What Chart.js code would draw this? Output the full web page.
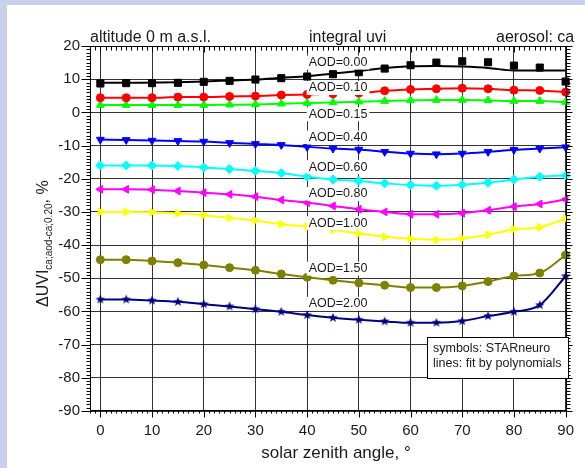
<!DOCTYPE html>
<html>
<head>
<meta charset="utf-8">
<script src="https://cdn.jsdelivr.net/npm/chart.js@4.4.1/dist/chart.umd.min.js"></script>
<style>
html, body { margin: 0; padding: 0; background: #c8d0ec; }
#wrap { width: 585px; height: 468px; }
</style>
</head>
<body>
<div id="wrap"><canvas id="chart" width="585" height="468"></canvas></div>
<script>
// solar zenith angles (x)
const sza = [0, 5, 10, 15, 20, 25, 30, 35, 40, 45, 50, 55, 60, 65, 70, 75, 80, 85, 90];

// STARneuro symbols, one array per AOD
const aod000 = [8.7, 8.8, 8.8, 8.9, 9.2, 9.5, 9.9, 10.3, 10.8, 11.5, 12.1, 13.2, 14.2, 15.0, 15.4, 15.1, 14.1, 13.5, 9.3];
const aod010 = [4.4, 4.4, 4.4, 4.6, 4.6, 4.8, 4.9, 5.2, 5.4, 5.6, 5.8, 6.5, 6.9, 7.1, 7.3, 7.1, 6.7, 6.6, 6.1];
const aod015 = [2.2, 2.2, 2.2, 2.2, 2.2, 2.3, 2.4, 2.6, 2.8, 3.0, 3.2, 3.4, 3.6, 3.7, 3.7, 3.6, 3.4, 3.4, 3.1];
const aod040 = [-8.2, -8.3, -8.5, -8.6, -8.8, -9.2, -9.5, -9.8, -10.4, -10.9, -11.2, -11.9, -12.4, -12.6, -12.4, -11.9, -11.3, -10.9, -10.5];
const aod060 = [-16.0, -16.0, -16.0, -16.2, -16.6, -17.1, -17.6, -18.3, -19.4, -20.2, -20.7, -21.4, -21.9, -22.1, -21.8, -21.2, -20.2, -19.4, -19.0];
const aod080 = [-23.2, -23.2, -23.3, -23.7, -24.2, -24.7, -25.4, -26.4, -27.2, -28.2, -29.2, -30.0, -30.7, -30.7, -30.4, -29.5, -28.4, -27.6, -26.2];
const aod100 = [-30.0, -30.0, -30.1, -30.4, -31.0, -31.8, -32.6, -33.7, -34.4, -35.4, -36.5, -37.5, -38.1, -38.4, -38.0, -36.9, -35.2, -34.6, -32.0];
const aod150 = [-44.4, -44.4, -44.8, -45.3, -46.0, -46.8, -47.6, -48.7, -49.7, -50.6, -51.4, -52.1, -52.8, -52.8, -52.3, -51.0, -49.3, -48.4, -43.0];
const aod200 = [-56.4, -56.4, -56.7, -57.1, -57.8, -58.5, -59.3, -60.1, -61.1, -61.9, -62.5, -63.0, -63.4, -63.4, -62.9, -61.4, -60.1, -58.1, -49.4];

// polynomial fit for AOD=0.00 (the only one visibly off the symbols)
const fit000 = [8.9, 8.9, 9.0, 9.1, 9.3, 9.6, 9.9, 10.4, 10.9, 11.7, 12.5, 13.4, 13.9, 14.0, 13.8, 13.4, 12.6, 12.6, 12.6];

// curve labels and where they sit (data units)
const aodNames = ['AOD=0.00', 'AOD=0.10', 'AOD=0.15', 'AOD=0.40', 'AOD=0.60', 'AOD=0.80', 'AOD=1.00', 'AOD=1.50', 'AOD=2.00'];
const labelY = [15.0, 7.35, -0.57, -7.6, -16.5, -24.6, -33.4, -47.1, -57.7];
const labelX = 40.3;

const xTicks = [0, 10, 20, 30, 40, 50, 60, 70, 80, 90];
const yTicks = [-90, -80, -70, -60, -50, -40, -30, -20, -10, 0, 10, 20];

const FONT = '"Liberation Sans", Arial, Helvetica, sans-serif';

function toPoints(ys) {
  return sza.map((x, i) => ({ x: x, y: ys[i] }));
}

// filled five point star for the AOD=2.00 symbols
function makeStar(color, r) {
  const c = document.createElement('canvas');
  const s = Math.ceil(r * 2) + 2;
  c.width = s; c.height = s;
  const g = c.getContext('2d');
  g.fillStyle = color;
  g.beginPath();
  for (let i = 0; i < 10; i++) {
    const rad = i % 2 === 0 ? r : r * 0.42;
    const a = -Math.PI / 2 + i * Math.PI / 5;
    const px = s / 2 + rad * Math.cos(a);
    const py = s / 2 + rad * Math.sin(a);
    if (i === 0) g.moveTo(px, py); else g.lineTo(px, py);
  }
  g.closePath();
  g.fill();
  return c;
}

function series(values, color, style, rotation, radius, showLine) {
  return {
    data: toPoints(values),
    borderColor: color,
    backgroundColor: color,
    borderWidth: 2,
    showLine: showLine,
    cubicInterpolationMode: 'monotone',
    pointStyle: style,
    rotation: rotation,
    pointRadius: radius,
    pointBorderWidth: 1,
    clip: false
  };
}

const datasets = [
  {
    data: toPoints(fit000),
    borderColor: '#000',
    borderWidth: 2,
    pointRadius: 0,
    cubicInterpolationMode: 'monotone',
    clip: false
  },
  series(aod000, '#000000', 'rect', 0, 5, false),
  series(aod010, '#ff0000', 'circle', 0, 4, true),
  series(aod015, '#00ff00', 'triangle', 0, 4.5, true),
  series(aod040, '#0000ff', 'triangle', 180, 4.5, true),
  series(aod060, '#00ffff', 'rectRot', 0, 4.5, true),
  series(aod080, '#ff00ff', 'triangle', 270, 4.5, true),
  series(aod100, '#ffff00', 'triangle', 90, 4.5, true),
  series(aod150, '#808000', 'circle', 0, 4, true),
  series(aod200, '#000080', makeStar('#000080', 5), 0, 5, true)
];

function seg(ctx, x1, y1, x2, y2) {
  ctx.beginPath();
  ctx.moveTo(x1, y1);
  ctx.lineTo(x2, y2);
  ctx.stroke();
}

const decor = {
  id: 'decor',
  beforeDraw(chart) {
    const ctx = chart.ctx;
    ctx.save();
    ctx.fillStyle = '#c8d0ec';
    ctx.fillRect(0, 0, chart.width, chart.height);
    ctx.fillStyle = '#ffffff';
    ctx.fillRect(7, 5, chart.width - 7, chart.height - 5);
    ctx.restore();
  },
  afterDatasetsDraw(chart) {
    const ctx = chart.ctx;
    const ca = chart.chartArea;
    const xs = chart.scales.x;
    const ys = chart.scales.y;
    ctx.save();

    // curve labels on white boxes
    ctx.font = '12.5px ' + FONT;
    ctx.textBaseline = 'middle';
    aodNames.forEach((t, i) => {
      const px = xs.getPixelForValue(labelX);
      const py = ys.getPixelForValue(labelY[i]);
      const w = ctx.measureText(t).width;
      ctx.fillStyle = '#ffffff';
      ctx.fillRect(px - 2, py - 7, w + 4, 14);
      ctx.fillStyle = '#1a1a1a';
      ctx.fillText(t, px, py);
    });

    // frame and minor ticks
    ctx.strokeStyle = '#000';
    ctx.lineWidth = 1;
    ctx.strokeRect(Math.round(ca.left) + 0.5, Math.round(ca.top) + 0.5,
      Math.round(ca.right - ca.left) - 1, Math.round(ca.bottom - ca.top) - 1);
    const L = Math.round(ca.left) + 0.5, R = Math.round(ca.right) - 0.5;
    const T = Math.round(ca.top) + 0.5, B = Math.round(ca.bottom) - 0.5;
    for (let v = -90; v <= 20; v++) {
      const py = Math.round(ys.getPixelForValue(v)) + 0.5;
      const major = v % 10 === 0;
      seg(ctx, L - (major ? 9 : 4), py, L, py);
      seg(ctx, R, py, R + (major ? 6 : 4), py);
    }
    for (let v = -2; v <= 90; v++) {
      const px = Math.round(xs.getPixelForValue(v)) + 0.5;
      const major = v % 10 === 0;
      seg(ctx, px, B, px, B + (major ? 7 : 3));
      seg(ctx, px, T, px, T + (major ? 6 : 4));
    }

    // info box
    ctx.fillStyle = '#ffffff';
    ctx.fillRect(427, 337, 141, 41);
    ctx.strokeRect(427.5, 337.5, 141, 41);
    ctx.fillStyle = '#1a1a1a';
    ctx.font = '12.5px ' + FONT;
    ctx.textBaseline = 'middle';
    ctx.fillText('symbols: STARneuro', 433, 349);
    ctx.fillText('lines: fit by polynomials', 433, 364);

    // titles above the plot
    ctx.font = '16px ' + FONT;
    ctx.textBaseline = 'alphabetic';
    ctx.fillText('altitude 0 m a.s.l.', 90, 42);
    ctx.fillText('integral uvi', 309, 42);
    ctx.fillText('aerosol: ca', 496, 42);

    // x axis title
    ctx.font = '17px ' + FONT;
    ctx.textAlign = 'center';
    ctx.fillText('solar zenith angle, \u00b0', 336, 458);

    // y axis title with subscript, rotated
    ctx.textAlign = 'left';
    ctx.translate(48, 307);
    ctx.rotate(-Math.PI / 2);
    ctx.font = '16px ' + FONT;
    const main = '\u0394UVI';
    ctx.fillText(main, 0, 0);
    let off = ctx.measureText(main).width;
    ctx.font = '10px ' + FONT;
    const sub = 'ca;aod-ca;0.20';
    ctx.fillText(sub, off, 4);
    off += ctx.measureText(sub).width;
    ctx.font = '16px ' + FONT;
    ctx.fillText(', %', off, 0);

    ctx.restore();
  }
};

new Chart(document.getElementById('chart'), {
  type: 'line',
  data: { datasets: datasets },
  options: {
    responsive: false,
    animation: false,
    devicePixelRatio: 1,
    layout: { padding: { top: 46, right: 15, left: 0, bottom: 0 } },
    plugins: { legend: { display: false }, tooltip: { enabled: false } },
    scales: {
      x: {
        type: 'linear',
        min: -2,
        max: 90.2,
        afterBuildTicks: s => { s.ticks = xTicks.map(v => ({ value: v })); },
        afterFit: s => { s.height = 57; },
        grid: { color: 'rgba(0,0,0,0.8)', lineWidth: 1, drawTicks: false },
        border: { display: false },
        ticks: { color: '#1a1a1a', padding: 11, maxRotation: 0, font: { size: 15, family: FONT } }
      },
      y: {
        type: 'linear',
        min: -90,
        max: 20,
        afterBuildTicks: s => { s.ticks = yTicks.map(v => ({ value: v })); },
        afterFit: s => { s.width = 90; },
        grid: { color: 'rgba(0,0,0,0.8)', lineWidth: 1, drawTicks: false },
        border: { display: false },
        ticks: { color: '#1a1a1a', padding: 10, font: { size: 15, family: FONT } }
      }
    }
  },
  plugins: [decor]
});
</script>
</body>
</html>
